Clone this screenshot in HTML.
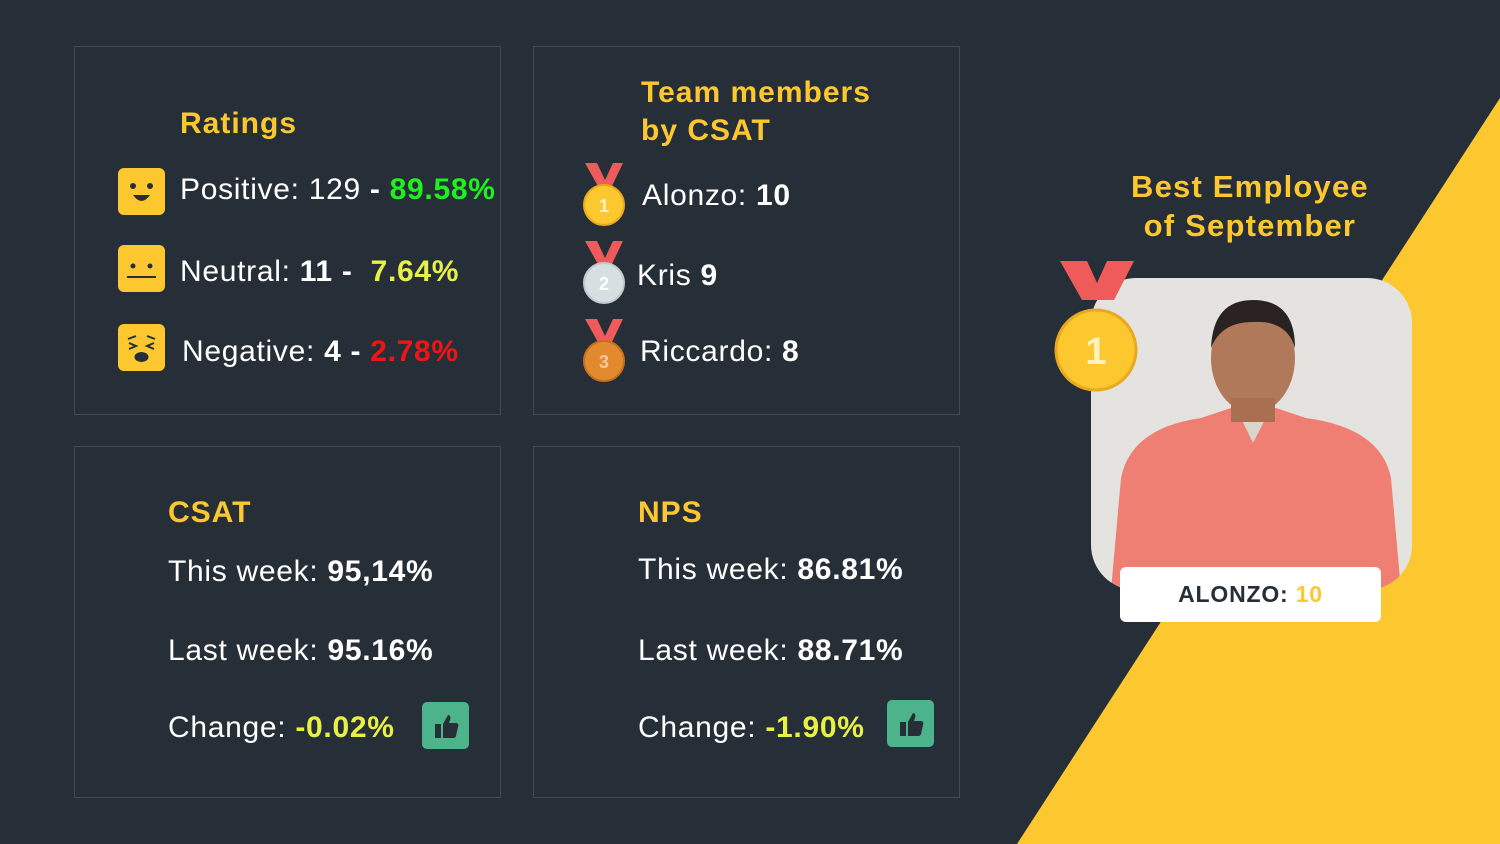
<!DOCTYPE html>
<html><head><style>
body{margin:0;width:1500px;height:844px;background:#262f37;position:relative;overflow:hidden;font-family:"Liberation Sans",sans-serif;color:#fff}
.box{position:absolute;border:1.5px solid #414b55;box-sizing:border-box}
.t{position:absolute;white-space:nowrap;font-size:30px;letter-spacing:0.7px}
.y{color:#fdc82f;font-weight:bold;letter-spacing:1px}
b{font-weight:bold}
.ic{position:absolute;width:47px;height:47px;border-radius:6px;background:#fdc82f}
.th{position:absolute;width:47px;height:47px;border-radius:5px;background:#4cb38a}
</style></head><body>
<svg width="1500" height="844" style="position:absolute;left:0;top:0">
<polygon points="1500,98 1500,844 1017,844" fill="#fdc82f"/>
</svg>
<div class="box" style="left:74px;top:46px;width:427px;height:369px"></div>
<div class="box" style="left:533px;top:46px;width:427px;height:369px"></div>
<div class="box" style="left:74px;top:446px;width:427px;height:352px"></div>
<div class="box" style="left:533px;top:446px;width:427px;height:352px"></div>

<div class="t y" style="left:180px;top:107px;font-size:30px">Ratings</div>
<div class="ic" style="left:118px;top:168px"><svg width="47" height="47"><circle cx="15" cy="18" r="3" fill="#262f37"/><circle cx="32" cy="18" r="3" fill="#262f37"/><path d="M15 27 Q23.5 39 32 27Z" fill="#262f37"/></svg></div>
<div class="ic" style="left:118px;top:245px"><svg width="47" height="47"><circle cx="15" cy="21" r="2.5" fill="#262f37"/><circle cx="32" cy="21" r="2.5" fill="#262f37"/><rect x="9" y="31" width="29" height="2" fill="#262f37"/></svg></div>
<div class="ic" style="left:118px;top:324px"><svg width="47" height="47" fill="none" stroke="#262f37" stroke-width="2"><path d="M10 15 L18 12M37 15 L29 12M11 19 L18 22 L11 25M36 19 L29 22 L36 25"/><ellipse cx="23.5" cy="33" rx="6" ry="4" fill="#262f37"/></svg></div>
<div class="t" style="left:180px;top:173px">Positive: 129 <b>- </b><b style="color:#1ef21e">89.58%</b></div>
<div class="t" style="left:180px;top:255px">Neutral: <b>11 -&nbsp; </b><b style="color:#e8f046">7.64%</b></div>
<div class="t" style="left:182px;top:335px">Negative: <b>4 - </b><b style="color:#f01414">2.78%</b></div>

<div class="t y" style="left:641px;top:74px;line-height:38px">Team members<br>by CSAT</div>
<svg width="60" height="240" style="position:absolute;left:575px;top:160px">
<g><path d="M10 3 L22 3 L30 20 L38 3 L48 3 L36 28 L24 28Z" fill="#ef5a5a"/><circle cx="29" cy="45" r="20" fill="#fdc82f" stroke="#e8a91c" stroke-width="2"/><text x="29" y="52" font-size="18" font-weight="bold" fill="#fff3c0" text-anchor="middle" font-family="Liberation Sans">1</text></g>
<g transform="translate(0,78)"><path d="M10 3 L22 3 L30 20 L38 3 L48 3 L36 28 L24 28Z" fill="#ef5a5a"/><circle cx="29" cy="45" r="20" fill="#d6dfe1" stroke="#bfcacd" stroke-width="2"/><text x="29" y="52" font-size="18" font-weight="bold" fill="#fff" text-anchor="middle" font-family="Liberation Sans">2</text></g>
<g transform="translate(0,156)"><path d="M10 3 L22 3 L30 20 L38 3 L48 3 L36 28 L24 28Z" fill="#ef5a5a"/><circle cx="29" cy="45" r="20" fill="#e38a2e" stroke="#c86f1c" stroke-width="2"/><text x="29" y="52" font-size="18" font-weight="bold" fill="#f7c9a0" text-anchor="middle" font-family="Liberation Sans">3</text></g>
</svg>
<div class="t" style="left:642px;top:179px">Alonzo: <b>10</b></div>
<div class="t" style="left:637px;top:259px">Kris <b>9</b></div>
<div class="t" style="left:640px;top:335px">Riccardo: <b>8</b></div>

<div class="t y" style="left:168px;top:496px">CSAT</div>
<div class="t" style="left:168px;top:555px">This week: <b>95,14%</b></div>
<div class="t" style="left:168px;top:634px">Last week: <b>95.16%</b></div>
<div class="t" style="left:168px;top:711px">Change: <b style="color:#e8f046">-0.02%</b></div>
<div class="th" style="left:422px;top:702px"><svg width="47" height="47"><path d="M13 22 h6 v14 h-6z M21 22 l5-9 c2 0 3 2 2 5 l-1 3 h7 c2 0 3 2 2 4 l-2 9 c-1 2-2 2-3 2 h-10z" fill="#262f37"/></svg></div>

<div class="t y" style="left:638px;top:496px">NPS</div>
<div class="t" style="left:638px;top:553px">This week: <b>86.81%</b></div>
<div class="t" style="left:638px;top:634px">Last week: <b>88.71%</b></div>
<div class="t" style="left:638px;top:711px">Change: <b style="color:#e8f046">-1.90%</b></div>
<div class="th" style="left:887px;top:700px"><svg width="47" height="47"><path d="M13 22 h6 v14 h-6z M21 22 l5-9 c2 0 3 2 2 5 l-1 3 h7 c2 0 3 2 2 4 l-2 9 c-1 2-2 2-3 2 h-10z" fill="#262f37"/></svg></div>

<div class="t y" style="left:1131px;top:167px;font-size:31px;line-height:39px;text-align:center;letter-spacing:1.2px">Best Employee<br>of September</div>

<div style="position:absolute;left:1091px;top:278px;width:321px;height:312px;border-radius:45px;background:#e4e3e0;overflow:hidden">
<svg width="321" height="312">
<path d="M20 312 L30 200 Q40 150 110 140 L140 130 L185 130 L215 140 Q290 150 300 200 L310 312Z" fill="#f07f73"/>
<path d="M145 130 L162 165 L180 130Z" fill="#d9d4cc"/>
<ellipse cx="162" cy="80" rx="42" ry="55" fill="#b07a5a"/>
<path d="M120 70 Q122 22 162 22 Q204 22 204 70 Q196 42 162 44 Q130 44 120 70Z" fill="#2a2220"/>
<rect x="140" y="120" width="44" height="24" fill="#a86f50"/>
</svg>
</div>
<div style="position:absolute;left:1120px;top:567px;width:261px;height:55px;background:#fff;border-radius:6px;text-align:center;line-height:55px;font-size:23px;font-weight:bold;color:#262f37;letter-spacing:0.8px">ALONZO: <span style="color:#fdc82f">10</span></div>

<svg width="90" height="140" style="position:absolute;left:1052px;top:258px">
<path d="M8 3 L35 3 L45 25 L55 3 L82 3 L62 42 L30 42Z" fill="#ef5a5a"/>
<circle cx="44" cy="92" r="40" fill="#fdc82f" stroke="#e8a91c" stroke-width="3"/>
<text x="44" y="106" font-size="38" font-weight="bold" fill="#fff3c0" text-anchor="middle" font-family="Liberation Sans">1</text>
</svg>
</body></html>
